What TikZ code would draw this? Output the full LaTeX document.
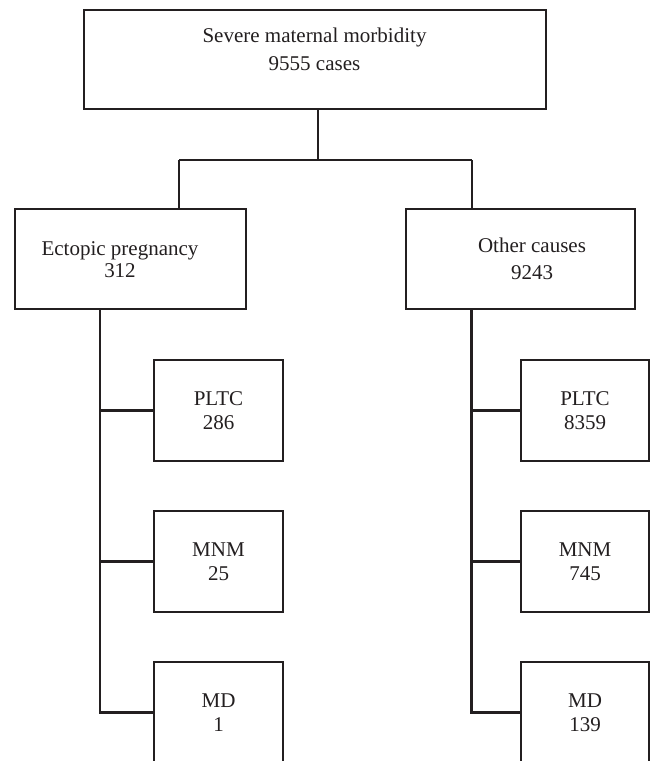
\documentclass[tikz,border=0pt]{standalone}
\usepackage{fontspec}
\setmainfont{Liberation Serif}
\definecolor{ink}{RGB}{35,31,32}
\begin{document}
\begin{tikzpicture}[x=1pt,y=-1pt,
  box/.style={draw=ink, line width=2.4pt, rectangle, inner sep=0pt},
  lbl/.style={align=center, font=\fontsize{21}{24}\selectfont, text=ink},
  conn/.style={draw=ink, line width=2.4pt, line join=miter}]
\useasboundingbox (0,0) rectangle (650,761);
\clip (0,0) rectangle (650,761);
\fill[white] (0,0) rectangle (650,761);

% top
\node[box, minimum width=462, minimum height=99] (top) at (315,59.5) {};
\node[lbl] (toptext) at (314.5,49.5) {Severe maternal morbidity\\[4pt]9555 cases};

% second level
\node[box, minimum width=231, minimum height=100] (ect) at (130.5,259) {};
\node[lbl] (ecttext) at (120,260) {Ectopic pregnancy\\[-2pt]312};
\node[box, minimum width=229, minimum height=100] (oth) at (520.5,259) {};
\node[lbl] (othtext) at (532,259) {Other causes\\[3pt]9243};

% left children
\node[box, lbl, minimum width=129, minimum height=101] (pll) at (218.5,410.5) {PLTC\\286};
\node[box, lbl, minimum width=129, minimum height=101] (mnl) at (218.5,561.5) {MNM\\25};
\node[box, lbl, minimum width=129, minimum height=101] (mdl) at (218.5,712.5) {MD\\1};

% right children
\node[box, lbl, minimum width=128, minimum height=101] (plr) at (585,410.5) {PLTC\\8359};
\node[box, lbl, minimum width=128, minimum height=101] (mnr) at (585,561.5) {MNM\\745};
\node[box, lbl, minimum width=128, minimum height=101] (mdr) at (585,712.5) {MD\\139};

% connectors
\coordinate (tj) at (318,160);
\coordinate (bl) at (179,160);
\coordinate (br) at (472,160);
\coordinate (tl) at (100,0);
\coordinate (tr) at (471.5,0);

\draw[conn] (top.south -| tj) -- (tj);
\draw[conn] (bl) -- (br);
\draw[conn] (bl) -- (bl |- ect.north);
\draw[conn] (br) -- (br |- oth.north);

\draw[conn] (tl |- ect.south) -- (tl |- mdl.west) -- (mdl.west);
\draw[conn] (tl |- pll.west) -- (pll.west);
\draw[conn] (tl |- mnl.west) -- (mnl.west);

\draw[conn] (tr |- oth.south) -- (tr |- mdr.west) -- (mdr.west);
\draw[conn] (tr |- plr.west) -- (plr.west);
\draw[conn] (tr |- mnr.west) -- (mnr.west);
\end{tikzpicture}
\end{document}
